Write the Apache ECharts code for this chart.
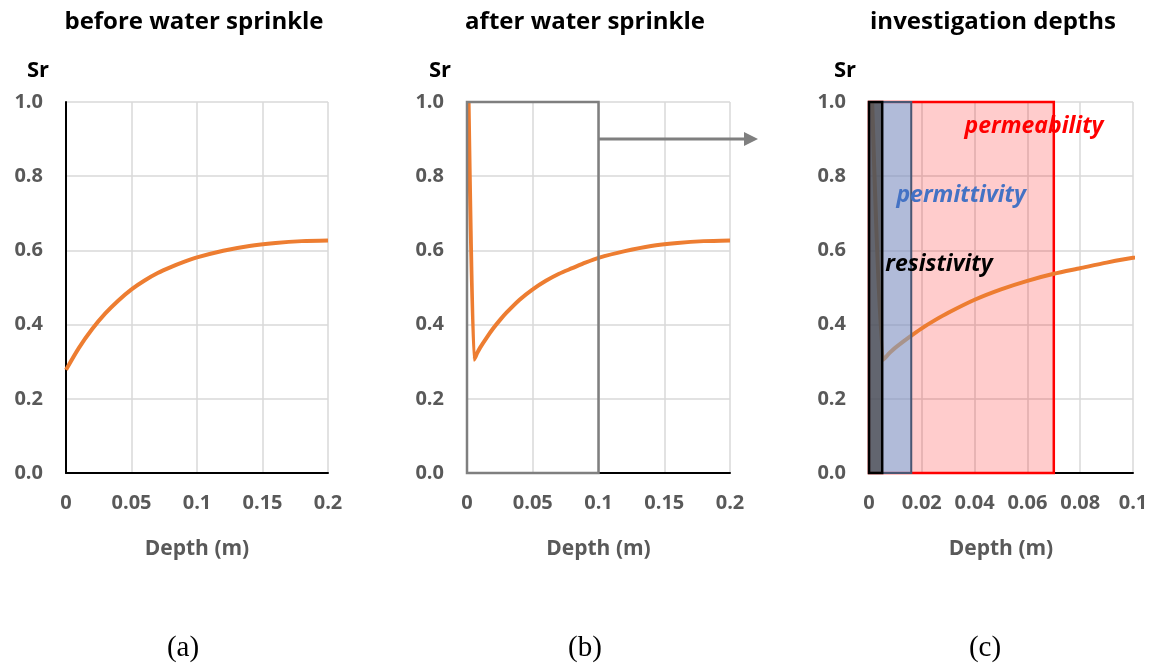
<!DOCTYPE html>
<html><head><meta charset="utf-8">
<script src="https://cdn.jsdelivr.net/npm/echarts@6/dist/echarts.min.js"></script>
<style>html,body{margin:0;padding:0;background:#fff}#c{width:1152px;height:666px}</style>
</head><body><div id="c"></div>
<script>
// Data
var panelTitles = ['before water sprinkle', 'after water sprinkle', 'investigation depths'];
var panelLetters = ['(a)', '(b)', '(c)'];
var beforeDepth = [0, 0.01, 0.02, 0.03, 0.04, 0.05, 0.06, 0.07, 0.08, 0.09, 0.1, 0.12, 0.14, 0.16, 0.18, 0.2];
var beforeSr    = [0.278, 0.338, 0.388, 0.43, 0.465, 0.495, 0.519, 0.539, 0.555, 0.569, 0.581, 0.599, 0.612, 0.62, 0.625, 0.627];
var afterDepth = [0.0012, 0.0053, 0.006, 0.008, 0.01, 0.015, 0.02, 0.025, 0.03, 0.04, 0.05, 0.06, 0.07, 0.08, 0.09, 0.1, 0.12, 0.14, 0.16, 0.18, 0.2];
var afterSr    = [1.0, 0.305, 0.31, 0.325, 0.338, 0.365, 0.39, 0.412, 0.432, 0.467, 0.495, 0.518, 0.537, 0.552, 0.567, 0.58, 0.598, 0.612, 0.62, 0.625, 0.627];
var zoomBox = { x0: 0, x1: 0.1, y0: 0, y1: 1.0 };
var arrowFrom = [0.1, 0.9], arrowTo = [0.2213, 0.9];
var depthNames = ['resistivity', 'permittivity', 'permeability'];
var depthLimits = [0.005, 0.016, 0.07];
var depthLabelPos = [[0.0265, 0.563], [0.0349, 0.749], [0.0625, 0.935]];

function pairs(xs, ys) { return xs.map(function (x, i) { return [x, ys[i]]; }); }

var FONT = '"Open Sans", Lato, sans-serif';
var lefts = [66, 467, 869], widths = [262, 263, 264];
var xMax = [0.2, 0.2, 0.1], xInt = [0.05, 0.05, 0.02];

var grids = [], xAxes = [], yAxes = [], series = [];
for (var i = 0; i < 3; i++) {
  grids.push({ left: lefts[i], top: 102, width: widths[i], height: 371, containLabel: false });
  xAxes.push({
    type: 'value', gridIndex: i, min: 0, max: xMax[i], interval: xInt[i],
    name: 'Depth (m)', nameLocation: 'middle', nameGap: 66,
    nameTextStyle: { color: '#595959', fontWeight: 'bold', fontSize: 21, fontFamily: FONT },
    axisLine: { show: true, lineStyle: { color: '#000', width: 2 } },
    axisTick: { show: false },
    axisLabel: { color: '#595959', fontWeight: 'bold', fontSize: 20, fontFamily: FONT, margin: 20 },
    splitLine: { show: true, lineStyle: { color: '#d9d9d9', width: 1.5 } }
  });
  yAxes.push({
    type: 'value', gridIndex: i, min: 0, max: 1, interval: 0.2,
    axisLine: { show: true, lineStyle: { color: '#000', width: 2 } },
    axisTick: { show: false },
    axisLabel: { color: '#595959', fontWeight: 'bold', fontSize: 20, fontFamily: FONT, margin: 23,
      formatter: function (v) { return v.toFixed(1); } },
    splitLine: { show: true, lineStyle: { color: '#d9d9d9', width: 1.5 } }
  });
}
var lineStyle = { color: '#ed7d31', width: 4 };
series.push({ type: 'line', xAxisIndex: 0, yAxisIndex: 0, data: pairs(beforeDepth, beforeSr), showSymbol: false, smooth: 0.3, lineStyle: lineStyle, z: 2 });
series.push({ type: 'line', xAxisIndex: 1, yAxisIndex: 1, data: pairs(afterDepth, afterSr), showSymbol: false, smooth: 0.25, lineStyle: lineStyle, z: 2,
  markArea: { silent: true, z: 3, itemStyle: { color: 'rgba(0,0,0,0)', borderColor: '#7f7f7f', borderWidth: 2.5 },
    data: [[{ coord: [zoomBox.x0, zoomBox.y0] }, { coord: [zoomBox.x1, zoomBox.y1] }]] } });
series.push({ type: 'line', xAxisIndex: 2, yAxisIndex: 2, data: pairs(afterDepth, afterSr), showSymbol: false, smooth: 0.25, lineStyle: lineStyle, z: 2, clip: true,
  markArea: { silent: true, z: 1, itemStyle: { color: 'rgba(255,0,0,0.2)', borderColor: '#ff0000', borderWidth: 2.5 },
    data: [[{ coord: [0, 0] }, { coord: [depthLimits[2], 1] }]] } });
series.push({ type: 'line', xAxisIndex: 2, yAxisIndex: 2, data: [], z: 3,
  markArea: { silent: true, z: 3, itemStyle: { color: 'rgba(100,170,230,0.5)', borderColor: '#4a5672', borderWidth: 2 },
    data: [[{ coord: [0, 0] }, { coord: [depthLimits[1], 1] }]] } });
series.push({ type: 'line', xAxisIndex: 2, yAxisIndex: 2, data: [], z: 4,
  markArea: { silent: true, z: 4, itemStyle: { color: 'rgba(60,60,60,0.68)', borderColor: '#000', borderWidth: 2.5 },
    data: [[{ coord: [0, 0] }, { coord: [depthLimits[0], 1] }]] } });

var chart = echarts.init(document.getElementById('c'), null, { renderer: 'canvas' });
chart.setOption({ animation: false, backgroundColor: '#fff', grid: grids, xAxis: xAxes, yAxis: yAxes, series: series });

var g = [];
var titleX = [194, 585, 993], srX = [38, 440, 845], letterX = [183, 585, 985];
for (var k = 0; k < 3; k++) {
  g.push({ type: 'text', x: titleX[k], y: 22, style: { text: panelTitles[k], fill: '#000', font: 'bold 24px ' + FONT, align: 'center', verticalAlign: 'middle' } });
  g.push({ type: 'text', x: srX[k], y: 71, style: { text: 'Sr', fill: '#000', font: 'bold 22px ' + FONT, align: 'center', verticalAlign: 'middle' } });
  g.push({ type: 'text', x: letterX[k], y: 648, style: { text: panelLetters[k], fill: '#000', font: '29px "Liberation Serif", "DejaVu Serif", serif', align: 'center', verticalAlign: 'middle' } });
}
var p0 = chart.convertToPixel({ gridIndex: 1 }, arrowFrom);
var p1 = chart.convertToPixel({ gridIndex: 1 }, arrowTo);
g.push({ type: 'line', shape: { x1: p0[0], y1: p0[1], x2: p1[0] - 12, y2: p1[1] }, style: { stroke: '#7f7f7f', lineWidth: 3 } });
g.push({ type: 'polygon', shape: { points: [[p1[0], p1[1]], [p1[0] - 14, p1[1] - 7], [p1[0] - 14, p1[1] + 7]] }, style: { fill: '#7f7f7f' } });
var labelColors = ['#000', '#4472c4', '#ff0000'];
for (var m = 0; m < 3; m++) {
  var p = chart.convertToPixel({ gridIndex: 2 }, depthLabelPos[m]);
  g.push({ type: 'text', x: p[0], y: p[1], z: 10, style: { text: depthNames[m], fill: labelColors[m], font: 'italic bold 23px ' + FONT, align: 'center', verticalAlign: 'middle' } });
}
chart.setOption({ graphic: g });
</script></body></html>
